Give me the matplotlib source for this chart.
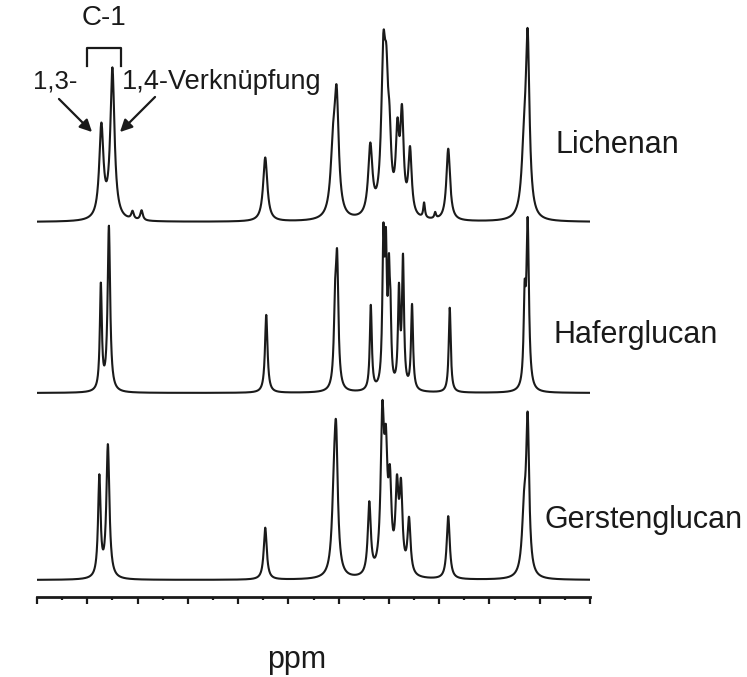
import numpy as np
import matplotlib.pyplot as plt

plt.rcParams['font.family'] = ['Liberation Sans', 'DejaVu Sans']

# 13C-NMR peak tables: position (ppm), intensity, half width (ppm)
lichenan_ppm = [103.6, 102.5, 100.5, 99.6, 87.3, 80.55, 80.2, 76.85, 75.55, 75.25,
                74.95, 74.15, 73.7, 72.9, 71.5, 70.4, 69.1, 61.55, 61.2]
lichenan_int = [92, 150, 8, 10, 64, 60, 110, 70, 150, 90,
                60, 75, 95, 65, 15, 6, 72, 60, 168]
lichenan_hw = [0.25, 0.25, 0.15, 0.15, 0.25, 0.3, 0.25, 0.25, 0.25, 0.2,
               0.2, 0.2, 0.2, 0.2, 0.1, 0.1, 0.22, 0.3, 0.22]

hafer_ppm = [103.65, 102.85, 87.2, 80.35, 80.15, 76.8, 75.55, 75.3, 75.0, 74.85,
             74.0, 73.6, 72.7, 68.95, 61.5, 61.2]
hafer_int = [105, 165, 78, 70, 118, 85, 140, 125, 95, 60,
             95, 128, 85, 85, 80, 165]
hafer_hw = [0.12, 0.15, 0.15, 0.15, 0.15, 0.12, 0.12, 0.12, 0.1, 0.1,
            0.12, 0.12, 0.12, 0.12, 0.12, 0.15]

gersten_ppm = [103.8, 102.95, 87.3, 80.45, 80.25, 76.95, 75.65, 75.3, 74.9, 74.2,
               73.8, 73.0, 69.1, 61.55, 61.2]
gersten_int = [100, 133, 52, 70, 115, 72, 150, 100, 80, 80,
               80, 55, 63, 60, 148]
gersten_hw = [0.15, 0.18, 0.18, 0.25, 0.2, 0.18, 0.2, 0.18, 0.18, 0.18,
              0.18, 0.18, 0.18, 0.25, 0.18]

names = ['Lichenan', 'Haferglucan', 'Gerstenglucan']

W, H = 747, 677


def spectrum(x, pos, amp, hw):
    y = np.zeros_like(x)
    for p, a, w in zip(pos, amp, hw):
        y += a * w**2 / ((x - p)**2 + w**2)
    return y


ppm = np.linspace(110, 55, 3000)

fig = plt.figure(figsize=(W / 100, H / 100), dpi=100)
ax = fig.add_axes([37 / W, 1 - 597 / H, (590 - 37) / W, 597 / H])

traces = [
    (lichenan_ppm, lichenan_int, lichenan_hw, 375),
    (hafer_ppm, hafer_int, hafer_hw, 204),
    (gersten_ppm, gersten_int, gersten_hw, 17),
]
for pos, amp, hw, offset in traces:
    ax.plot(ppm, spectrum(ppm, pos, amp, hw) + offset, color='#1a1a1a', lw=1.5)

ax.set_xlim(110, 55)
ax.set_ylim(0, 597)
ax.set_xticks(np.arange(110, 54, -5))
ax.set_xticks(np.arange(107.5, 55, -5), minor=True)
ax.set_xticklabels([])
ax.tick_params(axis='x', which='major', length=5, width=1.6, direction='out', color='#1a1a1a')
ax.tick_params(axis='x', which='minor', length=2.5, width=1.6, direction='out', color='#1a1a1a')
ax.set_yticks([])
for side in ['left', 'right', 'top']:
    ax.spines[side].set_visible(False)
ax.spines['bottom'].set_linewidth(2)
ax.spines['bottom'].set_color('#1a1a1a')
ax.patch.set_alpha(0)


def fxy(x, y):
    return x / W, 1 - y / H


# sample names
for name, (x, y) in zip(names, [(555, 145), (553, 335), (545, 520)]):
    fig.text(*fxy(x, y), name, fontsize=22, ha='left', va='center', color='#1a1a1a')

fig.text(*fxy(297, 660), 'ppm', fontsize=22, ha='center', va='center', color='#1a1a1a')

# C-1 bracket and labels
fig.text(*fxy(104, 18), 'C-1', fontsize=20, ha='center', va='center', color='#1a1a1a')
bx = [87 / W, 87 / W, 121 / W, 121 / W]
by = [1 - 66 / H, 1 - 48 / H, 1 - 48 / H, 1 - 66 / H]
fig.add_artist(plt.Line2D(bx, by, color='#1a1a1a', lw=1.6))

fig.text(*fxy(55, 82), '1,3-', fontsize=18.5, ha='center', va='center', color='#1a1a1a')
fig.text(*fxy(122, 82), '1,4-Verknüpfung', fontsize=19.5, ha='left', va='center', color='#1a1a1a')

arrow = dict(arrowstyle='-|>', color='#1a1a1a', lw=1.6, mutation_scale=18)
ax.annotate('', xy=fxy(94, 134), xycoords='figure fraction',
            xytext=fxy(57, 97), textcoords='figure fraction', arrowprops=arrow)
ax.annotate('', xy=fxy(118, 134), xycoords='figure fraction',
            xytext=fxy(157, 95), textcoords='figure fraction', arrowprops=arrow)

fig.savefig('out.png', dpi=100)
